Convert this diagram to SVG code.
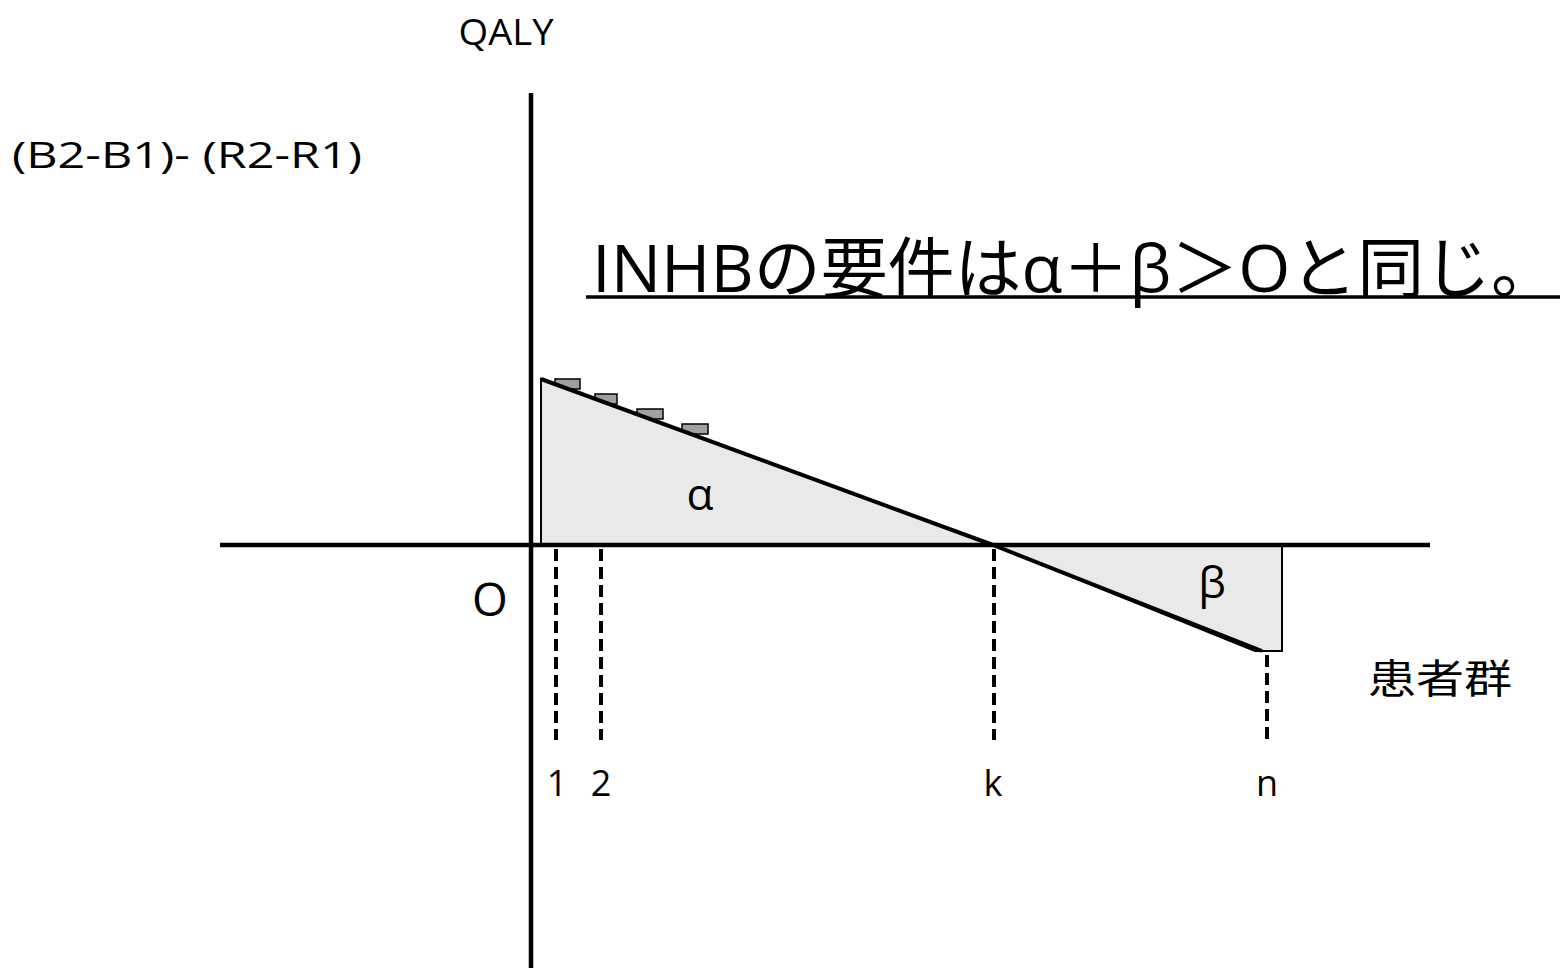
<svg xmlns="http://www.w3.org/2000/svg" width="1567" height="968" viewBox="0 0 1567 968">
<style>
.t{font-family:"Open Sans","Noto Sans CJK JP",sans-serif;fill:#000}
.ax{stroke:#000;stroke-width:4.5;fill:none}
.dash{stroke:#000;stroke-width:4;stroke-dasharray:12,6;fill:none}
.area{fill:#e9e9e9;stroke:#000;stroke-width:2}
.step{fill:#a0a0a0;stroke:#000;stroke-width:1.5}
</style>
<rect width="1567" height="968" fill="#fff"/>
<g id="alpha-area">
<rect class="step" x="555" y="379" width="25" height="10"/>
<rect class="step" x="595" y="394" width="22" height="10"/>
<rect class="step" x="637" y="409" width="26" height="10"/>
<rect class="step" x="682" y="424" width="26" height="10"/>
<polygon class="area" points="541,379 993,545 541,545"/>
<line x1="541" y1="379" x2="993" y2="545" stroke="#000" stroke-width="4"/>
</g>
<g id="beta-area">
<polygon class="area" points="993,545 1282,545 1282,651 1255,651"/>
<line x1="993" y1="545" x2="1262" y2="651" stroke="#000" stroke-width="4"/>
</g>
<g id="connectors">
<line class="ax" x1="531" y1="93" x2="531" y2="968"/>
<line class="ax" x1="220" y1="545" x2="1430" y2="545"/>
<line class="dash" x1="556" y1="549" x2="556" y2="740"/>
<line class="dash" x1="601" y1="549" x2="601" y2="740"/>
<line class="dash" x1="994" y1="549" x2="994" y2="740"/>
<line class="dash" x1="1267" y1="655" x2="1267" y2="740"/>
</g>
<g id="labels">
<text class="t" x="506" y="45" font-size="37" text-anchor="middle" textLength="95" lengthAdjust="spacingAndGlyphs">QALY</text>
<text class="t" x="12" y="168" font-size="37" textLength="350" lengthAdjust="spacingAndGlyphs">(B2-B1)- (R2-R1)</text>
<text class="t" x="592" y="292" font-size="66" textLength="966" lengthAdjust="spacingAndGlyphs">INHBの要件はα＋β＞Oと同じ。</text>
<line x1="586" y1="297" x2="1560" y2="297" stroke="#000" stroke-width="3.5"/>
<text class="t" x="490" y="616" font-size="46" text-anchor="middle">O</text>
<text class="t" x="700" y="510" font-size="44" text-anchor="middle">α</text>
<text class="t" x="1212" y="598" font-size="44" text-anchor="middle">β</text>
<text class="t" x="1440" y="693" font-size="40" text-anchor="middle" textLength="144" lengthAdjust="spacingAndGlyphs">患者群</text>
<text class="t" x="557" y="796" font-size="36" text-anchor="middle">1</text>
<text class="t" x="601" y="796" font-size="36" text-anchor="middle">2</text>
<text class="t" x="993" y="796" font-size="36" text-anchor="middle">k</text>
<text class="t" x="1267" y="796" font-size="36" text-anchor="middle">n</text>
</g>
</svg>
